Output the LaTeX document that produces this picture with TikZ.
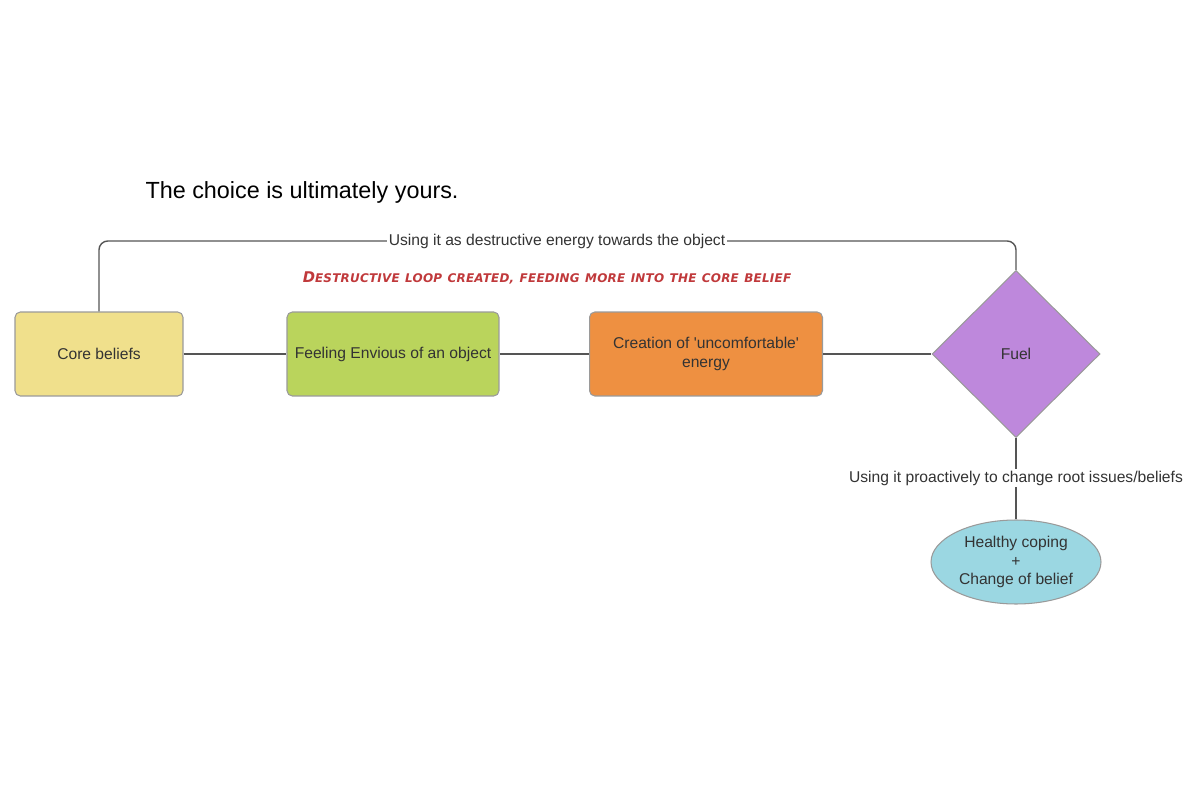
\documentclass[tikz,border=0pt]{standalone}
\usepackage{fontspec}
\setmainfont{Liberation Sans}
\newfontfamily\loopfont[LetterSpace=2]{DejaVu Sans}
\usetikzlibrary{positioning, shapes.geometric}
\definecolor{cyellow}{HTML}{F0E08C}
\definecolor{cgreen}{HTML}{BAD45C}
\definecolor{corange}{HTML}{EE9041}
\definecolor{cpurple}{HTML}{BE88DC}
\definecolor{ccyan}{HTML}{9BD7E2}
\definecolor{cedge}{HTML}{9A9A9A}
\definecolor{cline}{HTML}{555555}
\definecolor{ctext}{HTML}{333333}
\definecolor{cred}{HTML}{C0393B}
\tikzset{
  every picture/.style={font=\fontsize{8.9}{10.5}\selectfont, line width=0.6pt},
  stage/.style={draw=cedge, fill=#1, rounded corners=3pt, align=center, text=ctext, minimum width=3.36cm, minimum height=1.68cm, inner sep=2pt},
  link/.style={draw=cline, line width=0.8pt},
  linklabel/.style={fill=white, inner sep=1pt, text=ctext},
}
\newcommand{\smallcapword}[2]{#1{\fontsize{6.8}{8}\selectfont #2}}
\begin{document}
\begin{tikzpicture}[x=0.02cm, y=-0.02cm]
  \useasboundingbox (0,0) rectangle (1200,800);
  \node[font=\fontsize{13.3}{15}\selectfont, anchor=west, text=black, inner sep=0pt] (title) at (145,192) {The choice is ultimately yours.};

  % main row
  \node[stage=cyellow] (core) at (99,354) {Core beliefs};
  \node[stage=cgreen, minimum width=4.24cm] (envy) at (393,354) {Feeling Envious of an object};
  \node[stage=corange, minimum width=4.66cm] (energy) at (706,354) {Creation of \textquotesingle uncomfortable\textquotesingle\\energy};
  \node[draw=cedge, fill=cpurple, diamond, inner sep=0pt, minimum width=3.36cm, minimum height=3.34cm, text=ctext] (fuel) at (1016,354) {Fuel};
  \node[draw=cedge, fill=ccyan, ellipse, inner sep=0pt, minimum width=3.4cm, minimum height=1.68cm, align=center, text=ctext] (coping) at (1016,562) {Healthy coping\\+\\Change of belief};
  \draw[link] (core) -- (envy);
  \draw[link] (envy) -- (energy);
  \draw[link] (energy) -- (fuel);

  % destructive loop
  \draw[link, rounded corners=5pt] (fuel.north) -- (1016,241) -- (99,241) -- (core.north);
  \node[linklabel] (destr) at (557,241) {Using it as destructive energy towards the object};
  \node[text=cred, font=\loopfont\bfseries\itshape\fontsize{8.4}{9}\selectfont] (loop) at (547,278)
    {\smallcapword{D}{ESTRUCTIVE} \smallcapword{}{LOOP} \smallcapword{}{CREATED,} \smallcapword{}{FEEDING} \smallcapword{}{MORE} \smallcapword{}{INTO} \smallcapword{}{THE} \smallcapword{}{CORE} \smallcapword{}{BELIEF}};

  % healthy path
  \draw[link] (fuel.south) -- (coping.north);
  \node[linklabel] (proact) at (1016,478) {Using it proactively to change root issues/beliefs};
\end{tikzpicture}
\end{document}
